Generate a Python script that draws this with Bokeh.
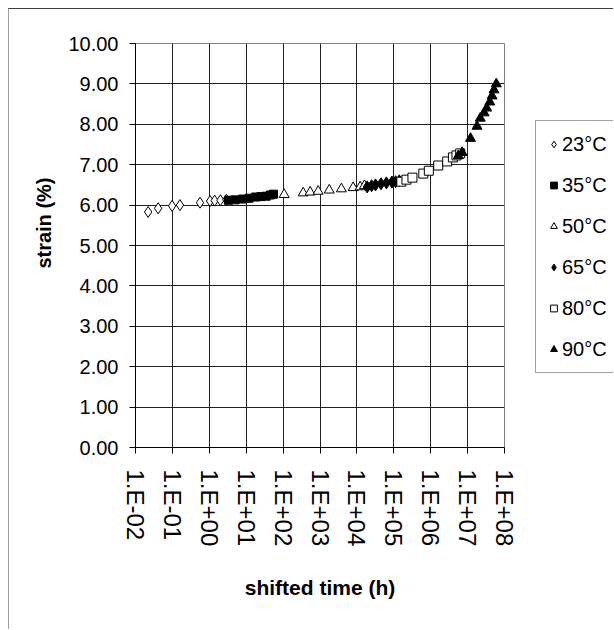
from bokeh.plotting import figure
from bokeh.models import Range1d, FixedTicker, Legend, LegendItem, NumeralTickFormatter, Title
from bokeh.layouts import row
from bokeh.embed import file_html
from bokeh.resources import INLINE

# ---- data ----
t_23 = [0.022, 0.041, 0.098, 0.16, 0.56, 1.05, 1.4, 2.0, 2.9]
s_23 = [5.83, 5.92, 5.98, 6.00, 6.06, 6.10, 6.11, 6.12, 6.13]

t_35 = [3.3, 5.0, 8.0, 12.0, 18.0, 25.0, 35.0, 45.0, 55.0]
s_35 = [6.12, 6.13, 6.15, 6.17, 6.20, 6.21, 6.22, 6.25, 6.27]

t_50 = [107, 350, 540, 890, 1780, 3800, 7900, 12300, 16000]
s_50 = [6.26, 6.30, 6.32, 6.34, 6.37, 6.40, 6.43, 6.45, 6.48]

t_65 = [19000, 25000, 32000, 45000, 63000, 89000, 112000, 141000]
s_65 = [6.45, 6.48, 6.50, 6.53, 6.55, 6.57, 6.58, 6.60]

t_80 = [1.6e5, 2.2e5, 3.2e5, 6.3e5, 8.9e5, 1.6e6, 2.8e6, 4.0e6, 5.0e6, 6.3e6]
s_80 = [6.58, 6.63, 6.68, 6.78, 6.85, 6.98, 7.08, 7.18, 7.23, 7.28]

t_90 = [5.6e6, 7.1e6, 1.2e7, 1.8e7, 2.2e7, 2.8e7, 3.3e7, 4.0e7, 4.6e7, 5.2e7, 6.0e7]
s_90 = [7.22, 7.30, 7.65, 7.95, 8.15, 8.28, 8.40, 8.55, 8.70, 8.85, 9.00]

series_labels = ["23°C", "35°C", "50°C", "65°C", "80°C", "90°C"]

x_ticks = [1e-2, 1e-1, 1e0, 1e1, 1e2, 1e3, 1e4, 1e5, 1e6, 1e7, 1e8]
x_tick_labels = ["1.E-02", "1.E-01", "1.E+00", "1.E+01", "1.E+02", "1.E+03",
                 "1.E+04", "1.E+05", "1.E+06", "1.E+07", "1.E+08"]
y_ticks = [0, 1, 2, 3, 4, 5, 6, 7, 8, 9, 10]

FONT = "Liberation Sans"

p = figure(width=525, height=621, x_axis_type="log",
           x_range=Range1d(1e-2, 1e8), y_range=Range1d(0, 10),
           output_backend="svg", toolbar_location=None,
           min_border_left=126, min_border_right=30,
           min_border_top=34, min_border_bottom=183)
p.margin = (8, 0, 0, 8)
p.styles = {"border-top": "1px solid #404040", "border-left": "1px solid #a0a0a0"}
p.background_fill_color = "white"
p.border_fill_color = "white"
p.outline_line_color = "#808080"
p.outline_line_width = 1

# axes
p.xaxis.ticker = FixedTicker(ticks=x_ticks)
p.xaxis.major_label_overrides = {t: l for t, l in zip(x_ticks, x_tick_labels)}
p.xaxis.major_label_orientation = "vertical"
p.xaxis.major_label_text_font = FONT
p.xaxis.major_label_text_font_size = "24px"
p.xaxis.major_label_text_color = "black"
p.xaxis.major_label_standoff = 16
p.xaxis.minor_tick_line_color = None
p.xaxis.major_tick_in = 0
p.xaxis.major_tick_out = 6
p.xaxis.major_tick_line_color = "black"
p.xaxis.axis_line_color = "black"
p.xaxis.axis_label = "shifted time (h)"
p.xaxis.axis_label_text_font = FONT
p.xaxis.axis_label_text_font_style = "bold"
p.xaxis.axis_label_text_font_size = "21px"
p.xaxis.axis_label_text_color = "black"
p.xaxis.axis_label_standoff = 27

p.yaxis.ticker = FixedTicker(ticks=y_ticks)
p.yaxis.formatter = NumeralTickFormatter(format="0.00")
p.yaxis.major_label_text_font = FONT
p.yaxis.major_label_text_font_size = "20px"
p.yaxis.major_label_text_color = "black"
p.yaxis.major_label_standoff = 11
p.yaxis.minor_tick_line_color = None
p.yaxis.major_tick_in = 0
p.yaxis.major_tick_out = 6
p.yaxis.major_tick_line_color = "black"
p.yaxis.axis_line_color = "black"

ytitle = Title(text="strain (%)", align="right", offset=134, vertical_align="bottom",
               standoff=22, text_font=FONT, text_font_style="bold",
               text_font_size="20px", text_color="black")
p.add_layout(ytitle, "left")

p.xgrid.grid_line_color = "#202020"
p.ygrid.grid_line_color = "#202020"
p.xgrid.ticker = FixedTicker(ticks=x_ticks)
p.ygrid.ticker = FixedTicker(ticks=y_ticks)

# series
specs = [
    (t_23, s_23, "diamond", 11, "white"),
    (t_35, s_35, "square", 8, "black"),
    (t_50, s_50, "triangle", 10, "white"),
    (t_65, s_65, "diamond", 12, "black"),
    (t_80, s_80, "square", 9, "white"),
    (t_90, s_90, "triangle", 10, "black"),
]
for t, s, m, sz, fc in specs:
    p.scatter(t, s, marker=m, size=sz, fill_color=fc, line_color="black", line_width=1)

# legend panel (separate figure so the box can run past the window edge);
# its ranges keep the copies of the series out of view, they only feed the legend glyphs
q = figure(width=80, height=621, x_range=Range1d(-20, -10), y_range=Range1d(-20, -10),
           output_backend="svg", toolbar_location=None,
           min_border_left=0, min_border_right=0, min_border_top=34, min_border_bottom=183)
q.margin = (8, 0, 0, 0)
q.styles = {"border-top": "1px solid #404040"}
q.axis.visible = False
q.grid.visible = False
q.outline_line_color = None
q.background_fill_color = "white"
q.border_fill_color = "white"

leg_renderers = []
for t, s, m, sz, fc in specs:
    leg_renderers.append(q.scatter(t, s, marker=m, size=sz, fill_color=fc,
                                   line_color="black", line_width=1))

legend = Legend(items=[LegendItem(label=l, renderers=[r]) for l, r in zip(series_labels, leg_renderers)],
                location=(2, 74), orientation="vertical")
legend.label_text_font = FONT
legend.label_text_font_size = "20px"
legend.label_text_color = "black"
legend.glyph_width = 17
legend.glyph_height = 28
legend.label_height = 28
legend.label_width = 60
legend.label_standoff = 0
legend.spacing = 13
legend.padding = 9
legend.margin = 0
legend.border_line_color = "#404040"
legend.border_line_width = 1
legend.background_fill_color = "white"
legend.background_fill_alpha = 1
q.add_layout(legend, "center")

layout = row(p, q, spacing=0)

open("out.html", "w").write(file_html(layout, INLINE))
